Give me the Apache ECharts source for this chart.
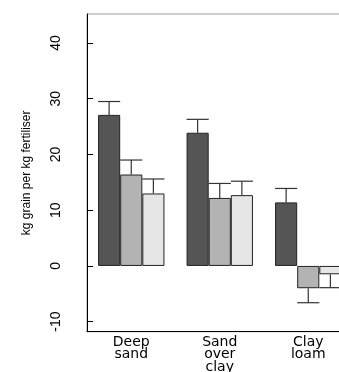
<!DOCTYPE html>
<html>
<head>
<meta charset="utf-8">
<script src="https://cdn.jsdelivr.net/npm/echarts@6/dist/echarts.min.js"></script>
<style>
html,body{margin:0;padding:0;background:#fff;}
#chart{width:339px;height:372px;}
</style>
</head>
<body>
<div id="chart"></div>
<script>
// data
var categories = ['Deep\nsand', 'Sand\nover\nclay', 'Clay\nloam'];
var darkVals = [27.1, 23.9, 11.4];
var midVals = [16.4, 12.2, -4.0];
var lightVals = [13.0, 12.7, -1.5];
// error (one side, drawn away from zero)
var darkErr = [2.4, 2.4, 2.5];
var midErr = [2.6, 2.6, 2.6];
var lightErr = [2.6, 2.5, 2.4];
var yTicks = [-10, 0, 10, 20, 30, 40];

var colours = ['#555555', '#b3b3b3', '#e6e6e6'];

function errSeries(vals, errs, idx){
	var data = [];
	for(var i=0;i<vals.length;i++){
		data.push([i, vals[i], errs[i]]);
	}
	return {
		type:'custom',
		z:5,
		silent:true,
		data:data,
		renderItem:function(params,api){
			var ci = api.value(0);
			var v = api.value(1);
			var e = api.value(2);
			var end = v>=0 ? v+e : v-e;
			var band = api.size([1,0])[0];
			var bw = band/4;
			var c = api.coord([ci, v]);
			var x = c[0] + (idx-1)*bw;
			var y0 = c[1];
			var y1 = api.coord([ci, end])[1];
			var st = {stroke:'#333', lineWidth:1.2};
			return {
				type:'group',
				children:[
					{type:'line', shape:{x1:x, y1:y0, x2:x, y2:y1}, style:st},
					{type:'line', shape:{x1:x-bw/2, y1:y1, x2:x+bw/2, y2:y1}, style:st}
				]
			};
		}
	};
}

function barSeries(vals, col){
	return {
		type:'bar',
		data:vals,
		barGap:'0%',
		barCategoryGap:'25%',
		itemStyle:{color:col, borderColor:'#222', borderWidth:1}
	};
}

var chart = echarts.init(document.getElementById('chart'));
chart.setOption({
	animation:false,
	backgroundColor:'#fff',
	grid:{
		left:87, top:14, width:265.5, height:317.7,
		outerBoundsMode:'none',
		show:true, borderColor:'#999', borderWidth:1
	},
	xAxis:{
		type:'category',
		data:categories,
		axisLine:{onZero:false, lineStyle:{color:'#000', width:1}},
		axisTick:{show:false},
		axisLabel:{
			margin:4, color:'#000', fontFamily:'DejaVu Sans', fontSize:14, lineHeight:12.5
		}
	},
	yAxis:{
		type:'value',
		min:-11.8, max:45.2,
		splitLine:{show:false},
		axisLine:{show:true, lineStyle:{color:'#000', width:1}},
		axisTick:{show:true, inside:true, length:6, customValues:yTicks, lineStyle:{color:'#000'}},
		axisLabel:{
			customValues:yTicks, rotate:90, margin:24, color:'#000',
			fontFamily:'Liberation Sans', fontSize:14
		},
		name:'kg grain per kg fertiliser',
		nameLocation:'middle',
		nameGap:54,
		nameTextStyle:{color:'#000', fontFamily:'Liberation Sans', fontSize:12}
	},
	series:[
		barSeries(darkVals, colours[0]),
		barSeries(midVals, colours[1]),
		barSeries(lightVals, colours[2]),
		errSeries(darkVals, darkErr, 0),
		errSeries(midVals, midErr, 1),
		errSeries(lightVals, lightErr, 2)
	]
});
</script>
</body>
</html>
